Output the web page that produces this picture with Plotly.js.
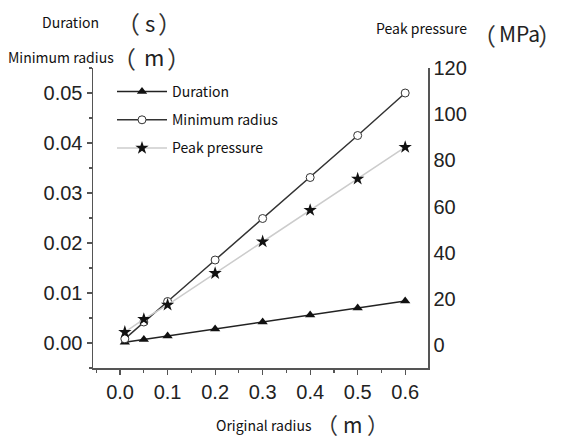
<!DOCTYPE html>
<html>
<head>
<meta charset="utf-8">
<script src="https://cdn.plot.ly/plotly-3.0.1.min.js"></script>
<style>html,body{margin:0;padding:0;background:#fff;}#chart{width:564px;height:441px;}</style>
</head>
<body>
<div id="chart"></div>
<script>
// Data
const originalRadius = [0.01, 0.05, 0.1, 0.2, 0.3, 0.4, 0.5, 0.6];
const duration = [0.00014, 0.0007, 0.0014, 0.0028, 0.0042, 0.0056, 0.007, 0.0084];
const minimumRadius = [0.00083, 0.0042, 0.0083, 0.0166, 0.0249, 0.0331, 0.0415, 0.05];
const peakPressure = [5.6, 11.2, 17.4, 31.1, 44.8, 58.4, 72, 85.7];
const xTicks = [0, 0.1, 0.2, 0.3, 0.4, 0.5, 0.6];
const leftTicks = [0, 0.01, 0.02, 0.03, 0.04, 0.05];
const rightTicks = [0, 20, 40, 60, 80, 100, 120];

const W = 564, H = 441;
const L = 93, R = 428, T = 68, B = 368;
const px = x => (x - L) / (R - L);
const py = y => (B - y) / (B - T);

const cjk = '"Noto Sans CJK SC", "Noto Sans", sans-serif';
const arial = '"Liberation Sans", Arial, sans-serif';

const traces = [
  {
    x: originalRadius, y: peakPressure, yaxis: 'y2', name: 'Peak pressure',
    mode: 'lines+markers', legendgroup: 'c', legendrank: 3,
    line: {color: '#cccccc', width: 1.5},
    marker: {symbol: 'star', size: 10, color: '#111', line: {width: 0}}
  },
  {
    x: originalRadius, y: duration, name: 'Duration',
    mode: 'lines+markers', legendgroup: 'a', legendrank: 1,
    line: {color: '#222', width: 1.5},
    marker: {symbol: 'triangle-up', size: 9, color: '#111', line: {width: 0}}
  },
  {
    x: originalRadius, y: minimumRadius, name: 'Minimum radius',
    mode: 'lines+markers', legendgroup: 'b', legendrank: 2,
    line: {color: '#333', width: 1.5},
    marker: {symbol: 'circle', size: 8, color: '#fff', line: {color: '#333', width: 1}}
  }
];

const ann = (text, cx, cy, size, color, anchor) => ({
  text, x: px(cx), y: py(cy), xref: 'paper', yref: 'paper', showarrow: false,
  xanchor: anchor || 'center', yanchor: 'middle', borderpad: 0,
  font: {family: cjk, size, color: color || '#111'}
});
const PS = 24;
const openP = (cx, cy, s) => ann('（', cx - 0.355 * (s || PS), cy, s || PS, '#333');
const closeP = (cx, cy, s) => ann('）', cx + 0.355 * (s || PS), cy, s || PS, '#333');

const layout = {
  width: W, height: H,
  margin: {l: L, r: W - R, t: T, b: H - B, pad: 0},
  paper_bgcolor: '#fff', plot_bgcolor: '#fff',
  showlegend: true,
  legend: {
    x: px(112), y: py(76), xanchor: 'left', yanchor: 'top',
    bgcolor: 'rgba(0,0,0,0)', font: {family: cjk, size: 14, color: '#111'},
    traceorder: 'grouped', tracegroupgap: 7, itemwidth: 50
  },
  xaxis: {
    range: [-0.057, 0.648], tickvals: xTicks, tickformat: '.1f',
    ticks: 'outside', ticklen: 5, tickwidth: 1.2, tickcolor: '#555',
    minor: {dtick: 0.05, tick0: 0, ticks: 'outside', ticklen: 3, tickcolor: '#555'},
    showline: true, linecolor: '#555', linewidth: 1.5,
    showgrid: false, zeroline: false,
    tickfont: {family: arial, size: 20, color: '#222'}
  },
  yaxis: {
    range: [-0.005, 0.055], tickvals: leftTicks, tickformat: '.2f',
    ticks: 'outside', ticklen: 5, tickwidth: 1.2, tickcolor: '#555',
    minor: {dtick: 0.005, tick0: 0, ticks: 'outside', ticklen: 3, tickcolor: '#555'},
    showline: true, linecolor: '#555', linewidth: 1.5,
    showgrid: false, zeroline: false,
    tickfont: {family: arial, size: 20, color: '#222'}
  },
  yaxis2: {
    overlaying: 'y', side: 'right',
    range: [-9.96, 120], tickvals: rightTicks,
    ticks: '', showline: true, linecolor: '#555', linewidth: 1.5,
    showgrid: false, zeroline: false,
    tickfont: {family: arial, size: 20, color: '#222'}
  },
  annotations: [
    ann('Duration', 70, 22, 14),
    openP(136.5, 22.5), ann('s', 149.5, 22, 22, '#222'), closeP(161.5, 22.5),
    ann('Minimum radius', 60.5, 57, 14),
    openP(133, 57), ann('m', 154, 56, 22, '#222'), closeP(170, 57),
    ann('Peak pressure', 421, 28, 14),
    ann('（', 484, 34, PS, '#333'), ann('MPa', 519, 33, 21, '#222'), ann('）', 563, 34, PS, '#333', 'right'),
    ann('Original radius', 264, 425, 14),
    openP(334.5, 423, 22), ann('m', 352, 424, 21, '#222'), closeP(370, 423, 22)
  ]
};

Plotly.newPlot('chart', traces, layout, {displayModeBar: false, staticPlot: true});
</script>
</body>
</html>
